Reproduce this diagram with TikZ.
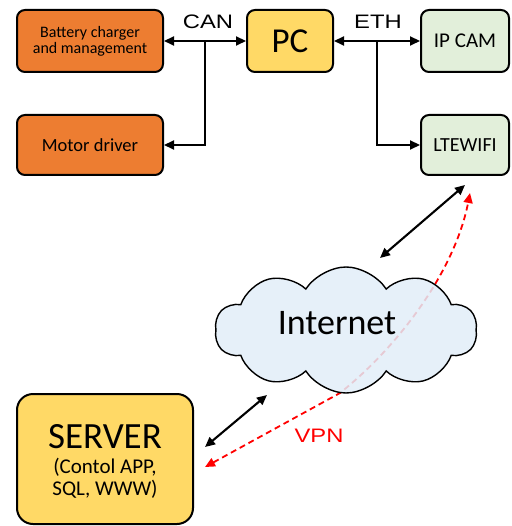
\documentclass[tikz,border=0pt]{standalone}
\usepackage{fontspec}
\usepackage{graphicx}
\setmainfont{Carlito}
\newfontfamily\arialf{Liberation Sans}
\usetikzlibrary{shapes.symbols,arrows.meta}
\definecolor{orng}{HTML}{ED7D31}
\definecolor{yell}{HTML}{FFD966}
\definecolor{grn}{HTML}{E2EFDA}
\definecolor{cloudc}{HTML}{E2EDF8}
\newcommand{\widetxt}[1]{\scalebox{1.22}[1]{#1}}
\tikzset{
  box/.style={draw=black, line width=2pt, rounded corners=8pt, align=center, inner sep=0pt},
  conn/.style={line width=2.1pt, {Triangle[length=10pt,width=9pt]}-{Triangle[length=10pt,width=9pt]}},
  conn1/.style={line width=2.1pt, -{Triangle[length=10pt,width=9pt]}},
  lbl/.style={font=\arialf\fontsize{19.5}{20}\selectfont}
}
\begin{document}
\begin{tikzpicture}[x=1pt,y=-1pt]
\useasboundingbox (0,0) rectangle (511,526);
\node[box, fill=orng, minimum width=146pt, minimum height=62pt, font=\fontsize{16}{16}\selectfont] (bat) at (90,41) {Battery charger\\and management};
\node[box, fill=orng, minimum width=146pt, minimum height=60pt, font=\fontsize{18.5}{19}\selectfont] (mot) at (90,145) {Motor driver};
\node[box, fill=yell, minimum width=86pt, minimum height=62pt, font=\fontsize{35}{35}\selectfont] (pc) at (290,41) {PC};
\node[box, fill=grn, minimum width=88pt, minimum height=62pt, font=\fontsize{21}{21}\selectfont] (cam) at (465,41) {IP CAM};
\node[box, fill=grn, minimum width=88pt, minimum height=60pt, font=\fontsize{20}{20}\selectfont] (lte) at (465,145) {LTEWIFI};
\node[box, fill=yell, rounded corners=16pt, minimum width=176pt, minimum height=130pt] (srv) at (105,459) {};
\node[font=\fontsize{37}{37}\selectfont] (srvt) at (105,437) {SERVER};
\node[font=\fontsize{21}{22}\selectfont, align=center] (srvs) at (105,478) {(Contol APP,\\SQL, WWW)};

\node[lbl] (can) at (208,22) {\widetxt{CAN}};
\node[lbl] (eth) at (378,22) {\widetxt{ETH}};
\coordinate (canj) at (205,41);
\coordinate (ethj) at (377,41);
\draw[conn] (bat.east) -- (pc.west);
\draw[conn1] (canj) |- (mot.east);
\draw[conn] (pc.east) -- (cam.west);
\draw[conn1] (ethj) |- (lte.west);

% VPN
\coordinate (vpnA) at (470,193);
\coordinate (vpnM) at (340,393);
\coordinate (vpnB) at (205,467);
\draw[red, line width=1.8pt, dash pattern=on 6pt off 4pt, {Triangle[length=10pt,width=9pt]}-{Triangle[length=10pt,width=9pt]}]
  (vpnB) -- (vpnM) .. controls (400,345) and (455,270) .. (vpnA);
\node[text=red, font=\arialf\fontsize{19.5}{20}\selectfont] (vpn) at (319,436) {\widetxt{VPN}};

\node[cloud, cloud puffs=10, cloud puff arc=115, aspect=2.1, draw=black, line width=1.4pt, fill=cloudc, fill opacity=0.85, text opacity=1, minimum width=262pt, minimum height=126pt, inner sep=0pt] (cl) at (346,330) {};
\node[font=\fontsize{36}{36}\selectfont] (inet) at (337,323) {Internet};

\coordinate (a1) at (380,258);
\coordinate (a2) at (465,185);
\coordinate (b1) at (205,447);
\coordinate (b2) at (267,395);
\draw[conn] (a1) -- (a2);
\draw[conn] (b1) -- (b2);
\end{tikzpicture}
\end{document}
